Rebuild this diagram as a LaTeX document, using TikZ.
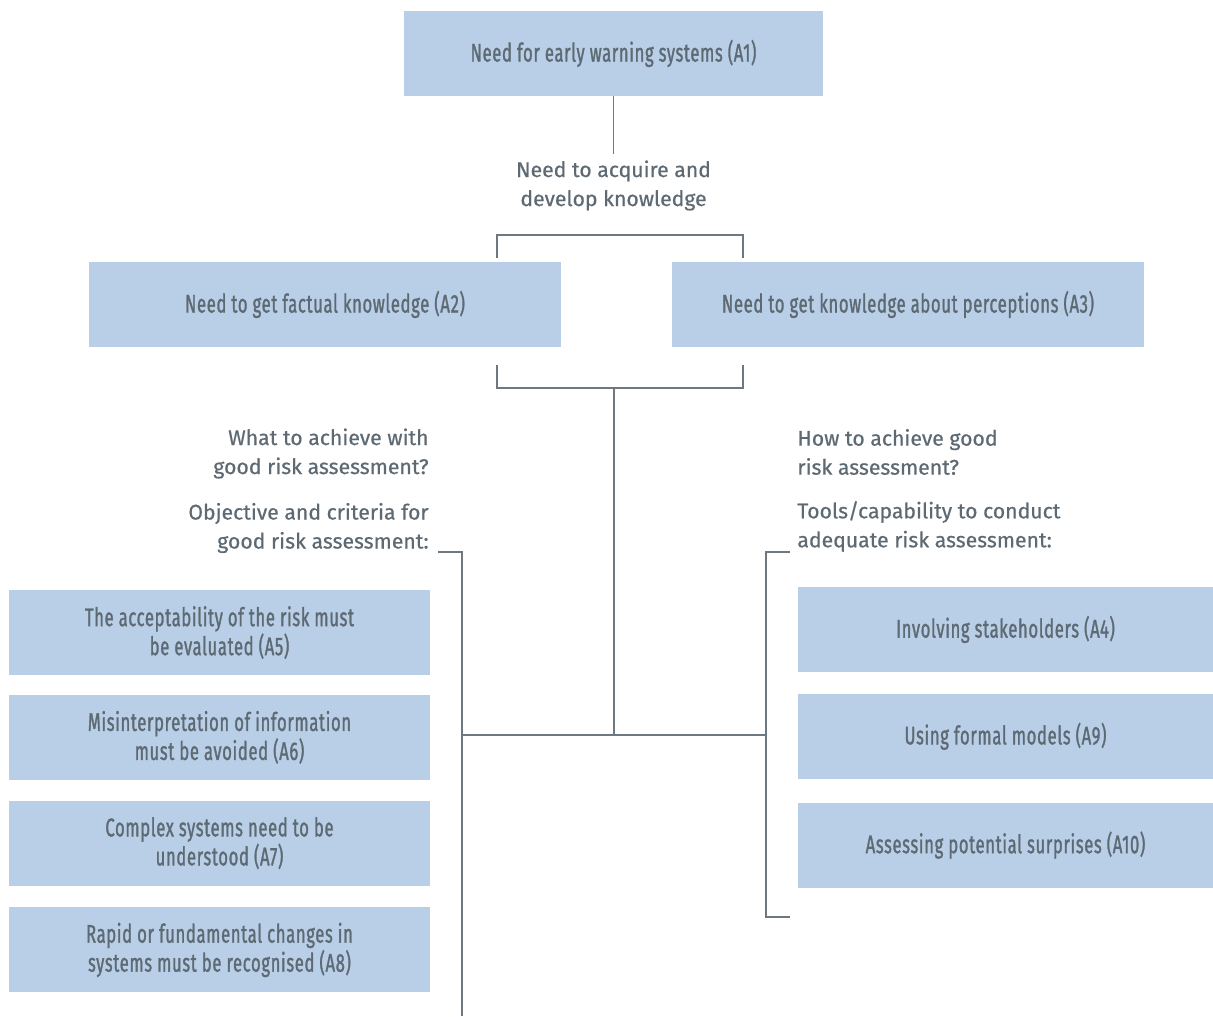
\documentclass[tikz,border=0pt]{standalone}
\usepackage{fontspec}
\setmainfont[FakeBold=0.6]{Fira Sans}
\newfontfamily\condfont[FakeStretch=0.65, FakeBold=1.2, LetterSpace=2.5]{Fira Sans}
\usetikzlibrary{positioning,calc}
\definecolor{boxblue}{HTML}{B8CFE7}
\definecolor{textgrey}{HTML}{5E6A73}
\definecolor{linegrey}{HTML}{6E7881}

\begin{document}
\begin{tikzpicture}[
  x=0.5pt, y=-0.5pt,
  font=\fontsize{10.6}{14.5}\selectfont, text=textgrey,
  box/.style={fill=boxblue, inner sep=0pt, align=center, font=\condfont\fontsize{12.8}{14.5}\selectfont},
  topbox/.style={box, minimum width=209.5pt, minimum height=42.5pt},
  midbox/.style={box, minimum width=236pt, minimum height=42.5pt},
  leftbox/.style={box, minimum width=210.5pt, minimum height=42.5pt},
  rightbox/.style={box, minimum width=207.5pt, minimum height=42.5pt},
  note/.style={inner sep=0pt},
  link/.style={draw=linegrey, line width=0.6pt}
]
\useasboundingbox (0,0) rectangle (1213,1016);

\node[topbox] (a1) at (613.5,53.5) {Need for early warning systems (A1)};
\node[note, align=center, inner sep=3pt] (know) at (613.5,185.5) {Need to acquire and\\develop knowledge};
\node[midbox] (a2) at (325,304.5) {Need to get factual knowledge (A2)};
\node[midbox] (a3) at (908,304.5) {Need to get knowledge about perceptions (A3)};

% questions either side of the spine
\node[note, align=right, anchor=east] (what) at (429,453.5) {What to achieve with\\good risk assessment?};
\node[note, align=right, anchor=east] (goal) at (429,528) {Objective and criteria for\\good risk assessment:};
\node[note, align=left, anchor=west] (how) at (797,452) {How to achieve good\\risk assessment?};
\node[note, align=left, anchor=west] (tools) at (797,526.5) {Tools/capability to conduct\\adequate risk assessment:};

% left column
\node[leftbox] (a5) at (219.5,632.5) {The acceptability of the risk must\\be evaluated (A5)};
\node[leftbox, below=9.5pt of a5] (a6) {Misinterpretation of information\\must be avoided (A6)};
\node[leftbox, below=10pt of a6] (a7) {Complex systems need to be\\understood (A7)};
\node[leftbox, below=10.5pt of a7] (a8) {Rapid or fundamental changes in\\systems must be recognised (A8)};

% right column
\node[rightbox] (a4) at (1005.5,629.5) {Involving stakeholders (A4)};
\node[rightbox, below=10.5pt of a4] (a9) {Using formal models (A9)};
\node[rightbox, below=11.5pt of a9] (a10) {Assessing potential surprises (A10)};

% brackets and spine
\coordinate (tl) at (497,258);
\coordinate (tr) at (743,258);
\coordinate (bl) at (497,365);
\coordinate (br) at (743,365);
\coordinate (join) at (614,388);
\coordinate (fork) at (614,735);
\coordinate (lspine) at (462,735);
\coordinate (rspine) at (766,735);
\coordinate (ltop) at (438,552);
\coordinate (lend) at (462,1016);
\coordinate (rtop) at (790,552);
\coordinate (rend) at (790,917);

\draw[link] (a1.south) -- (know.north);
\draw[link] (tl) -- ++(0,-23) -| (tr);
\draw[link] (bl) -- ++(0,23) -| (br);
\draw[link] (join) -- (fork);
\draw[link] (lspine) -- (rspine);
\draw[link] (ltop) -| (lend);
\draw[link] (rtop) -- ++(-24,0) |- (rend);
\end{tikzpicture}
\end{document}
